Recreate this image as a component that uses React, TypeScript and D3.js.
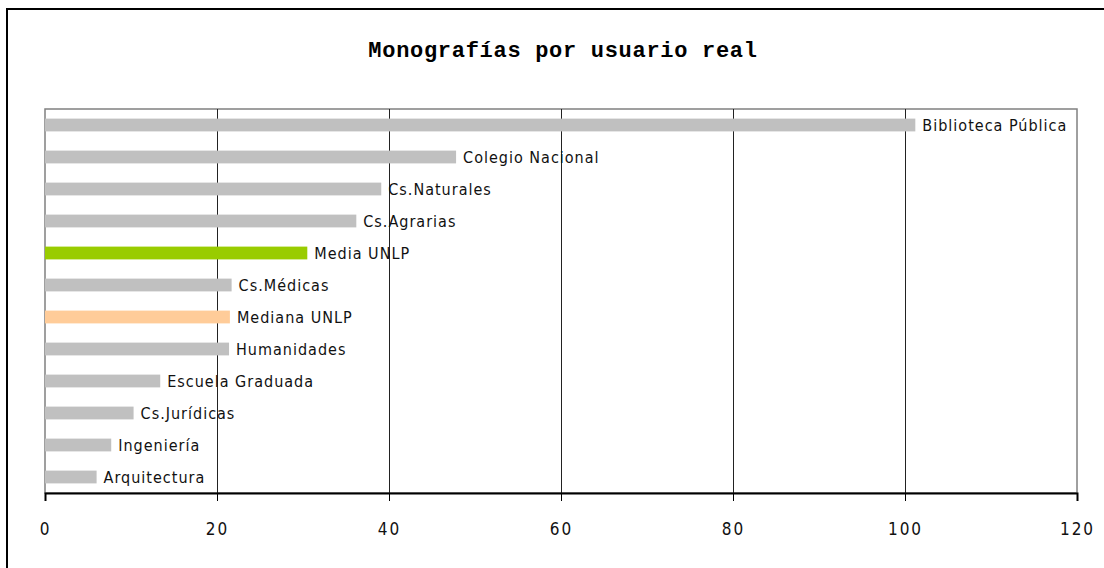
import React, { useEffect, useRef } from 'react';
import * as d3 from 'd3';

// data, top to bottom
const categories = [
  'Biblioteca Pública',
  'Colegio Nacional',
  'Cs.Naturales',
  'Cs.Agrarias',
  'Media UNLP',
  'Cs.Médicas',
  'Mediana UNLP',
  'Humanidades',
  'Escuela Graduada',
  'Cs.Jurídicas',
  'Ingeniería',
  'Arquitectura',
];
const values = [101.2, 47.8, 39.1, 36.2, 30.5, 21.7, 21.5, 21.4, 13.4, 10.3, 7.7, 6.0];
const xTicks = [0, 20, 40, 60, 80, 100, 120];
const title = 'Monografías por usuario real';

const W = 1104;
const H = 568;
const margin = { left: 45, right: 27, top: 109, bottom: 75 };

const barColor = (name: string) =>
  name === 'Media UNLP' ? '#99CC00' : name === 'Mediana UNLP' ? '#FFCC99' : '#C0C0C0';

const labelFont = '"Liberation Sans Narrow", "DejaVu Sans Condensed", "Arial Narrow", sans-serif';

export default function App() {
  const svgRef = useRef<SVGSVGElement>(null);

  useEffect(() => {
    const svg = d3.select(svgRef.current);
    svg.selectAll('*').remove();

    const x = d3.scaleLinear().domain([0, 120]).range([margin.left, W - margin.right]);
    const y = d3
      .scaleBand()
      .domain(categories)
      .range([margin.top, H - margin.bottom])
      .paddingInner(0.6)
      .paddingOuter(0.3);

    // outer chart border (runs off the right and bottom edge)
    svg
      .append('rect')
      .attr('x', 7)
      .attr('y', 9)
      .attr('width', W + 20)
      .attr('height', H + 20)
      .attr('fill', 'white')
      .attr('stroke', 'black')
      .attr('stroke-width', 2);

    svg
      .append('text')
      .attr('x', 563)
      .attr('y', 57)
      .attr('text-anchor', 'middle')
      .attr('font-family', '"Liberation Mono", "Courier New", monospace')
      .attr('font-weight', 'bold')
      .attr('font-size', 22)
      .attr('letter-spacing', 0.7)
      .text(title);

    // plot area
    svg
      .append('rect')
      .attr('x', x(0))
      .attr('y', margin.top)
      .attr('width', x(120) - x(0))
      .attr('height', H - margin.bottom - margin.top)
      .attr('fill', 'none')
      .attr('stroke', '#808080')
      .attr('stroke-width', 1.5);

    // vertical gridlines
    svg
      .selectAll('.grid')
      .data(xTicks.slice(1, -1))
      .join('line')
      .attr('class', 'grid')
      .attr('x1', (d) => Math.round(x(d)) + 0.5)
      .attr('x2', (d) => Math.round(x(d)) + 0.5)
      .attr('y1', margin.top)
      .attr('y2', H - margin.bottom)
      .attr('stroke', '#222');

    // bars
    svg
      .selectAll('.bar')
      .data(categories)
      .join('rect')
      .attr('class', 'bar')
      .attr('x', x(0))
      .attr('y', (d) => y(d)!)
      .attr('width', (d, i) => x(values[i]) - x(0))
      .attr('height', y.bandwidth())
      .attr('fill', (d) => barColor(d));

    // labels after bars
    svg
      .selectAll('.lbl')
      .data(categories)
      .join('text')
      .attr('class', 'lbl')
      .attr('x', (d, i) => x(values[i]) + 7)
      .attr('y', (d) => y(d)! + y.bandwidth() / 2 + 6)
      .attr('font-family', labelFont)
      .attr('font-size', 16)
      .attr('letter-spacing', 1.0)
      .attr('fill', '#111')
      .text((d) => d);

    // x axis
    const axis = d3
      .axisBottom(x)
      .tickValues(xTicks)
      .tickSize(8)
      .tickPadding(22)
      .tickFormat((d) => String(d));
    const g = svg
      .append('g')
      .attr('transform', `translate(0,${H - margin.bottom})`)
      .call(axis);
    g.select('.domain').attr('stroke', 'black').attr('stroke-width', 2);
    g.selectAll('.tick line').attr('stroke', 'black');
    g.selectAll('.tick text')
      .attr('font-family', labelFont)
      .attr('font-size', 17)
      .attr('letter-spacing', 2)
      .attr('fill', '#111');
  }, []);

  return (
    <div style={{ position: 'absolute', left: 0, top: 0 }}>
      <svg ref={svgRef} width={W} height={H} style={{ display: 'block' }} />
    </div>
  );
}
